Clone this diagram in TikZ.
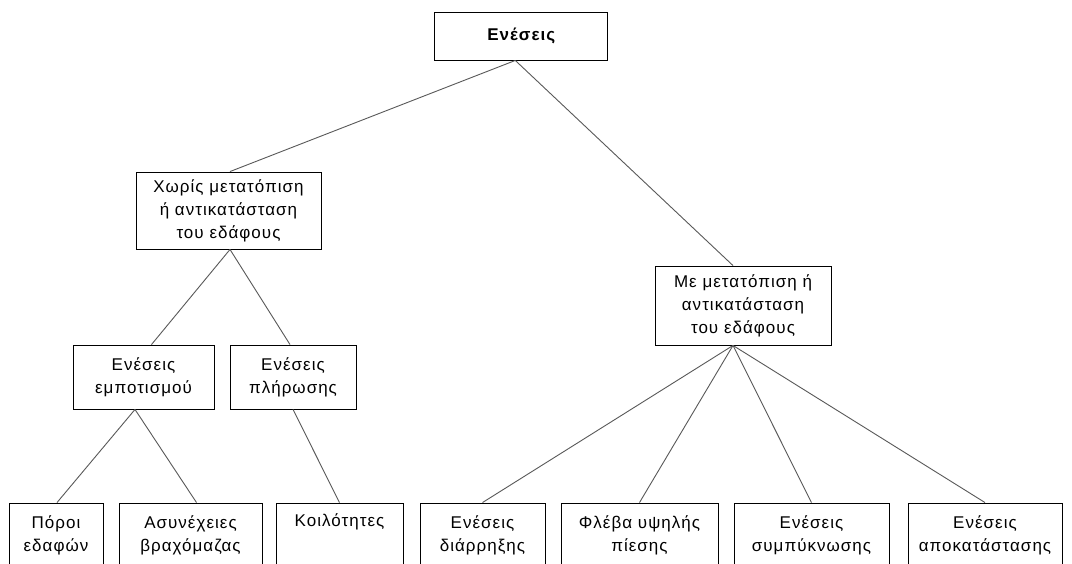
\documentclass[tikz,border=0pt]{standalone}
\usepackage{fontspec}
\setmainfont{Liberation Sans}[LetterSpace=6]
\begin{document}
\begin{tikzpicture}[x=1pt,y=-1pt,
  txt/.style={font=\fontsize{17}{23}\selectfont},
  box/.style={draw=black, line width=0.9pt, fill=white, align=center, inner sep=0pt, txt},
  conn/.style={draw=black!65, line width=0.9pt}]
\useasboundingbox (0,0) rectangle (1072,563);
\fill[white] (0,0) rectangle (1072,563);
\clip (0,0) rectangle (1072,563);
% level 0
\node[box, minimum width=173pt, minimum height=48pt, font=\bfseries\fontsize{17}{23}\selectfont] (root) at (521.3,36) {Ενέσεις};
% level 1
\node[box, minimum width=185pt, minimum height=77pt] (chor) at (228.5,210.5) {Χωρίς μετατόπιση\\ή αντικατάσταση\\του εδάφους};
\node[box, minimum width=176pt, minimum height=79pt] (me) at (743,305.5) {Με μετατόπιση ή\\αντικατάσταση\\του εδάφους};
% level 2
\node[box, minimum width=141pt, minimum height=64pt] (empot) at (143.5,377) {Ενέσεις\\εμποτισμού};
\node[box, minimum width=126pt, minimum height=64pt] (plir) at (293,377) {Ενέσεις\\πλήρωσης};
% level 3
\node[box, minimum width=94pt, minimum height=65pt] (poroi) at (56,535.5) {Πόροι\\εδαφών};
\node[box, minimum width=143pt, minimum height=65pt] (asyn) at (190.5,535.5) {Ασυνέχειες\\βραχόμαζας};
\node[box, minimum width=127pt, minimum height=65pt] (koil) at (339.5,535.5) {Κοιλότητες\\\strut};
\node[box, minimum width=125pt, minimum height=65pt] (diar) at (482.5,535.5) {Ενέσεις\\διάρρηξης};
\node[box, minimum width=157pt, minimum height=65pt] (fleva) at (639.5,535.5) {Φλέβα υψηλής\\πίεσης};
\node[box, minimum width=155pt, minimum height=65pt] (symp) at (811.5,535.5) {Ενέσεις\\συμπύκνωσης};
\node[box, minimum width=154pt, minimum height=65pt] (apok) at (985,535.5) {Ενέσεις\\αποκατάστασης};
% connectors
\draw[conn] ([xshift=-6pt]root.south) -- ([xshift=1.5pt]chor.north);
\draw[conn] ([xshift=-6pt]root.south) -- ([xshift=-10pt]me.north);
\draw[conn] ([xshift=1.5pt]chor.south) -- ([xshift=8pt]empot.north);
\draw[conn] ([xshift=1.5pt]chor.south) -- ([xshift=-3pt]plir.north);
\draw[conn] ([xshift=-8.5pt]empot.south) -- ([xshift=1pt]poroi.north);
\draw[conn] ([xshift=-8.5pt]empot.south) -- ([xshift=6pt]asyn.north);
\draw[conn] (plir.south) -- (koil.north);
\draw[conn] ([xshift=-10pt]me.south) -- (diar.north);
\draw[conn] ([xshift=-10pt]me.south) -- (fleva.north);
\draw[conn] ([xshift=-10pt]me.south) -- (symp.north);
\draw[conn] ([xshift=-10pt]me.south) -- (apok.north);
\end{tikzpicture}
\end{document}
